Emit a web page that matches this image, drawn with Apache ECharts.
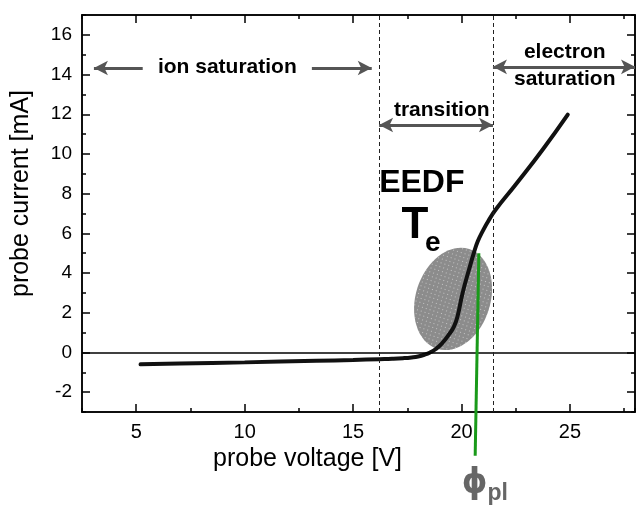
<!DOCTYPE html>
<html><head><meta charset="utf-8">
<script src="https://cdn.jsdelivr.net/npm/echarts@6/dist/echarts.min.js"></script>
<style>html,body{margin:0;padding:0;background:#fff}#c{width:637px;height:505px}</style>
</head><body><div id="c"></div><script>
// ---- data ----
const voltage = [5.2, 7, 10, 13.3, 15, 16.2, 16.8, 17.3, 17.7, 18.0, 18.3, 18.55, 18.8, 19.1, 19.43, 19.65, 19.82, 20.05, 20.35, 20.58, 20.75, 20.97, 21.25, 21.58, 22.5, 23.73, 24.9];
const current = [-0.6, -0.56, -0.5, -0.42, -0.38, -0.34, -0.32, -0.29, -0.25, -0.2, -0.11, 0.0, 0.16, 0.46, 0.92, 1.3, 1.84, 3.0, 4.19, 5.05, 5.6, 6.1, 6.65, 7.2, 8.46, 10.2, 11.98];
const plasmaPotentialX = [20.8, 20.63];
const plasmaPotentialY = [5.0, -5.2];
const regionBounds = [16.2, 21.45];
const eedfEllipse = [19.61, 2.7, 1.72, 2.64, 18]; // centre x, centre y, radius x, radius y, tilt (deg)
const xMajorTicks = [5, 10, 15, 20, 25];
const yMajorTicks = [-2, 0, 2, 4, 6, 8, 10, 12, 14, 16];
const labelTexts = ['ion saturation', 'electron\nsaturation', 'transition', 'EEDF', 'T', 'e', '\u03D5', 'pl'];
const labelX = [9.2, 24.76, 19.09, 18.17, 17.85, 18.68, 20.61, 21.67];
const labelY = [14.35, 14.45, 12.21, 8.54, 6.38, 5.5, -6.61, -7.12];
const arrowStart = [[5.3, 14.33], [13.1, 14.33], [21.45, 14.39], [16.2, 11.46]];
const arrowEnd = [[3.05, 14.33], [15.86, 14.33], [28, 14.39], [21.45, 11.46]];
const arrowHeads = [['none', 'arrow'], ['none', 'arrow'], ['arrow', 'arrow'], ['arrow', 'arrow']];

// ---- styling ----
const FONT = "'Liberation Sans', Arial, sans-serif";
const labelStyles = [
  {fontSize: 21, fontWeight: 'bold', color: '#000'},
  {fontSize: 21, fontWeight: 'bold', color: '#000', lineHeight: 27, align: 'center'},
  {fontSize: 21, fontWeight: 'bold', color: '#000'},
  {fontSize: 32, fontWeight: 'bold', color: '#000'},
  {fontSize: 44, fontWeight: 'bold', color: '#000'},
  {fontSize: 28, fontWeight: 'bold', color: '#000'},
  {fontSize: 36, fontWeight: 'bold', color: '#666', fontFamily: "'DejaVu Sans Condensed', 'DejaVu Sans', sans-serif"},
  {fontSize: 23, fontWeight: 'bold', color: '#666'}
];

const pc = document.createElement('canvas'); pc.width = 4; pc.height = 4;
const g = pc.getContext('2d');
g.fillStyle = '#8c8c8c'; g.fillRect(0, 0, 4, 4);
g.fillStyle = '#c4c4c4'; g.fillRect(1, 1, 1, 1);
const dotPattern = {image: pc, repeat: 'repeat'};

const axisLine = {show: true, onZero: false, lineStyle: {color: '#000', width: 1.5}};
function xAx(pos, major, withLabels) {
  const a = {
    type: 'value', min: 2.5, max: 28, interval: 2.5, position: pos,
    axisLine: axisLine, splitLine: {show: false},
    axisTick: {show: true, inside: true, length: major ? 8 : 4, lineStyle: {color: '#000', width: 1.5}},
    axisLabel: {show: false}
  };
  if (major) { a.axisTick.customValues = xMajorTicks; }
  if (withLabels) {
    a.axisLabel = {show: true, customValues: xMajorTicks, fontSize: 20, color: '#000', margin: 10, fontFamily: FONT};
    a.name = 'probe voltage [V]';
    a.nameLocation = 'middle';
    a.nameGap = 34;
    a.nameTextStyle = {fontSize: 25, color: '#000', fontFamily: FONT, padding: [0, 102, 0, 0]};
  }
  return a;
}
function yAx(pos, major, withLabels) {
  const a = {
    type: 'value', min: -3, max: 17, interval: 1, position: pos,
    axisLine: axisLine, splitLine: {show: false},
    axisTick: {show: true, inside: true, length: major ? 8 : 4, lineStyle: {color: '#000', width: 1.5}},
    axisLabel: {show: false}
  };
  if (major) { a.axisTick.customValues = yMajorTicks; }
  if (withLabels) {
    a.axisLabel = {show: true, customValues: yMajorTicks, fontSize: 19, color: '#000', margin: 10, fontFamily: FONT};
    a.name = 'probe current [mA]';
    a.nameLocation = 'middle';
    a.nameGap = 48;
    a.nameTextStyle = {fontSize: 25, color: '#000', fontFamily: FONT, padding: [0, 0, 0, 40]};
  }
  return a;
}

const arrowData = arrowStart.map((s, i) => [
  {coord: s, symbol: arrowHeads[i][0]},
  {coord: arrowEnd[i], symbol: arrowHeads[i][1]}
]);

const chart = echarts.init(document.getElementById('c'), null, {renderer: 'canvas'});
chart.setOption({
  animation: false,
  textStyle: {fontFamily: FONT},
  grid: {left: 82, right: 2, top: 15, bottom: 93, containLabel: false},
  xAxis: [xAx('bottom', false, false), xAx('bottom', true, true), xAx('top', false, false), xAx('top', true, false)],
  yAxis: [yAx('left', false, false), yAx('left', true, true), yAx('right', false, false), yAx('right', true, false)],
  series: [
    {
      type: 'custom', z: 1, data: [eedfEllipse],
      renderItem(params, api) {
        const c = api.coord([api.value(0), api.value(1)]);
        const s = api.size([api.value(2), api.value(3)]);
        return {type: 'ellipse', x: c[0], y: c[1], rotation: -api.value(4) * Math.PI / 180,
          shape: {cx: 0, cy: 0, rx: s[0], ry: s[1]}, style: {fill: dotPattern}};
      }
    },
    {
      type: 'line', z: 2, data: [], silent: true,
      markLine: {
        silent: true, animation: false, symbol: 'none', label: {show: false},
        data: [
          {yAxis: 0, lineStyle: {color: '#000', width: 1.5, type: 'solid'}},
          {xAxis: regionBounds[0], lineStyle: {color: '#222', width: 1, type: [4, 3]}},
          {xAxis: regionBounds[1], lineStyle: {color: '#222', width: 1, type: [4, 3]}}
        ]
      }
    },
    {
      type: 'line', z: 3, data: [], silent: true,
      markLine: {
        silent: true, animation: false, symbolSize: [11, 14], label: {show: false},
        lineStyle: {color: '#555', width: 3, type: 'solid'},
        data: arrowData
      }
    },
    {
      type: 'line', z: 4, smooth: 0.5, showSymbol: false,
      lineStyle: {color: '#111', width: 4, cap: 'round'},
      data: voltage.map((v, i) => [v, current[i]])
    },
    {
      type: 'line', z: 5, clip: false, showSymbol: false,
      lineStyle: {color: '#1a9a1a', width: 3},
      data: plasmaPotentialX.map((v, i) => [v, plasmaPotentialY[i]])
    },
    {
      type: 'scatter', z: 6, clip: false, symbolSize: 0, itemStyle: {color: '#000', opacity: 1}, silent: true,
      data: labelTexts.map((t, i) => ({
        value: [labelX[i], labelY[i]],
        label: Object.assign({show: true, position: 'inside', formatter: t, fontFamily: FONT, opacity: 1, textBorderWidth: 0}, labelStyles[i])
      }))
    }
  ]
});
</script></body></html>
